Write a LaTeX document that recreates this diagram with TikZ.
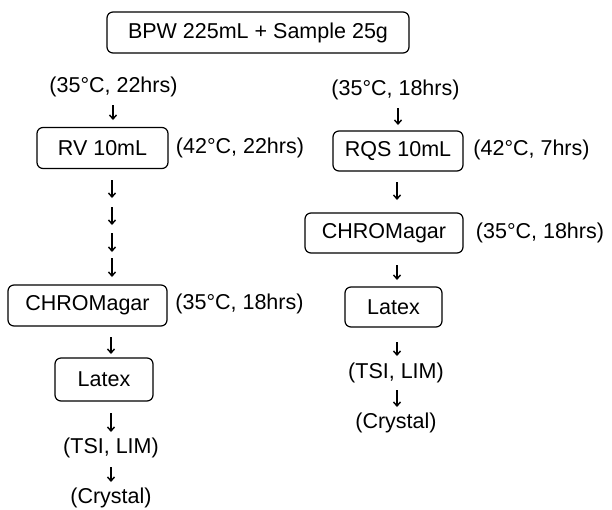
\documentclass[tikz,border=0pt]{standalone}
\usepackage{fontspec}
\setsansfont{Liberation Sans}
\usetikzlibrary{arrows.meta}
\tikzset{
  every picture/.style={font=\sffamily\fontsize{21.5}{24}\selectfont, line width=1.2pt},
  box/.style={draw, rounded corners=6pt, minimum width=#1, minimum height=41pt, inner sep=0pt},
  box/.default=120pt,
  cond/.style={inner sep=0pt},
  dn/.style={-{Straight Barb[length=4pt, width=7pt]}, line width=1.4pt},
}

\begin{document}
\begin{tikzpicture}[x=1pt, y=-1pt]
  \useasboundingbox (0,0) rectangle (612,509);
  % sample
  \node[box=302pt] (bpw) at (258,32.5) {BPW 225mL + Sample 25g};
  % RV route
  \node[cond] (rvpre) at (113.5,87) {(35°C, 22hrs)};
  \node[box=131pt] (rv) at (102.5,148) {RV 10mL};
  \node[cond] (rvcond) at (240,148) {(42°C, 22hrs)};
  \node[box=159pt] (chl) at (87.5,305.5) {CHROMagar};
  \node[cond] (chlcond) at (239.5,304) {(35°C, 18hrs)};
  \node[box=98pt, minimum height=43pt] (latl) at (104,379.5) {Latex};
  \node[cond] (tsil) at (111,448) {(TSI, LIM)};
  \node[cond] (cryl) at (111,498) {(Crystal)};
  % RQS route
  \node[cond] (rqspre) at (395.5,90) {(35°C, 18hrs)};
  \node[box=130pt, minimum height=40pt] (rqs) at (398,151) {RQS 10mL};
  \node[cond] (rqscond) at (531.5,150) {(42°C, 7hrs)};
  \node[box=158pt, minimum height=40pt] (chr) at (384,233) {CHROMagar};
  \node[cond] (chrcond) at (540,233) {(35°C, 18hrs)};
  \node[box=97pt, minimum height=40pt] (latr) at (393.5,307) {Latex};
  \node[cond] (tsir) at (396,373) {(TSI, LIM)};
  \node[cond] (cryr) at (396,423) {(Crystal)};
  % down arrows
  \foreach \n/\x/\ya/\yb in {l1/113/105/120, l2/112/180/198, l3/112/207/225, l4/112/233/252,
      l5/112/258/277, l6/111/337/354, l7/111/413/432, l8/111/467/482,
      r1/398/108/125, r2/397/182/200, r3/397/265/280, r4/397/342/356, r5/397/390/407} {
    \coordinate (\n-t) at (\x,\ya); \coordinate (\n-b) at (\x,\yb);
    \draw[dn] (\n-t) -- (\n-b);
  }
\end{tikzpicture}
\end{document}
